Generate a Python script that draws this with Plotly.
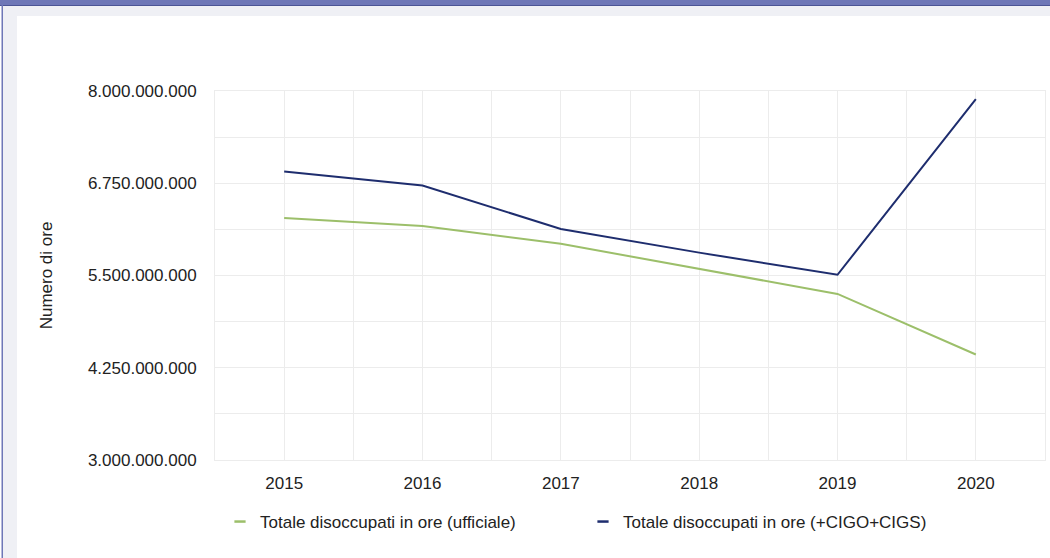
import plotly.graph_objects as go

years = [2015, 2016, 2017, 2018, 2019, 2020]
ufficiale = [6.28e9, 6.17e9, 5.93e9, 5.59e9, 5.25e9, 4.43e9]
cigo_cigs = [6.91e9, 6.72e9, 6.13e9, 5.81e9, 5.51e9, 7.89e9]
series_names = ["Totale disoccupati in ore (ufficiale)", "Totale disoccupati in ore (+CIGO+CIGS)"]
y_title = "Numero di ore"

GREEN = "#9cbf6a"
NAVY = "#1e2d6e"
GRID = "#ececec"
FONT = "Liberation Sans, Arial, sans-serif"
FS = 17

W, H = 1050, 558
ML, MR, MT, MB = 215, 5, 91, 98
PW, PH = W - ML - MR, H - MT - MB


def px_x(p):
    return (p - ML) / PW


def px_y(p):
    return (H - MB - p) / PH


fig = go.Figure()
fig.add_trace(go.Scatter(x=years, y=ufficiale, mode="lines", line=dict(color=GREEN, width=2),
                         name=series_names[0], showlegend=False))
fig.add_trace(go.Scatter(x=years, y=cigo_cigs, mode="lines", line=dict(color=NAVY, width=2),
                         name=series_names[1], showlegend=False))
# legend entries with short line symbols
for nm, col in zip(series_names, [GREEN, NAVY]):
    fig.add_trace(go.Scatter(x=[None], y=[None], mode="markers", name=nm,
                             marker=dict(symbol="line-ew-open", size=8, color=col, line=dict(color=col, width=2.5))))

shapes = []
# frame decoration
shapes.append(dict(type="rect", xref="paper", yref="paper", x0=px_x(0), x1=px_x(W), y0=px_y(0), y1=px_y(5),
                   fillcolor="#6e77b7", line=dict(width=0), layer="above"))
shapes.append(dict(type="rect", xref="paper", yref="paper", x0=px_x(0), x1=px_x(W), y0=px_y(5), y1=px_y(6),
                   fillcolor="#4b5495", line=dict(width=0), layer="above"))
shapes.append(dict(type="rect", xref="paper", yref="paper", x0=px_x(3), x1=px_x(W), y0=px_y(6), y1=px_y(16),
                   fillcolor="#eff0f5", line=dict(width=0), layer="above"))
shapes.append(dict(type="rect", xref="paper", yref="paper", x0=px_x(3), x1=px_x(17), y0=px_y(6), y1=px_y(H),
                   fillcolor="#eff0f5", line=dict(width=0), layer="above"))
shapes.append(dict(type="rect", xref="paper", yref="paper", x0=px_x(1.5), x1=px_x(3), y0=px_y(0), y1=px_y(H),
                   fillcolor="#6e77b7", line=dict(width=0), layer="above"))

fig.update_layout(
    width=W, height=H,
    margin=dict(l=ML, r=MR, t=MT, b=MB, autoexpand=False),
    paper_bgcolor="white", plot_bgcolor="white",
    separators=",.",
    font=dict(family=FONT, size=FS, color="#222222"),
    shapes=shapes,
    showlegend=True,
    legend=dict(orientation="h", x=px_x(220), xanchor="left", y=px_y(522), yanchor="middle",
                bgcolor="rgba(0,0,0,0)", itemwidth=30, entrywidth=318, entrywidthmode="pixels",
                font=dict(family=FONT, size=FS, color="#222222")),
    xaxis=dict(range=[2014.5, 2020.5], tickmode="linear", tick0=2015, dtick=1,
               showgrid=True, gridcolor=GRID, gridwidth=1, zeroline=False,
               showline=True, linecolor=GRID, linewidth=1, mirror=True,
               ticks="outside", ticklen=8, tickcolor="rgba(0,0,0,0)",
               minor=dict(tickmode="linear", tick0=2014.5, dtick=0.5, showgrid=True, gridcolor=GRID, gridwidth=1),
               tickfont=dict(size=FS, color="#222222")),
    yaxis=dict(range=[3e9, 8e9], tickmode="linear", tick0=3e9, dtick=1.25e9, tickformat=",d",
               showgrid=True, gridcolor=GRID, gridwidth=1, zeroline=False,
               showline=True, linecolor=GRID, linewidth=1, mirror=True,
               ticks="outside", ticklen=14, tickcolor="rgba(0,0,0,0)",
               minor=dict(tickmode="linear", tick0=3e9, dtick=0.625e9, showgrid=True, gridcolor=GRID, gridwidth=1),
               tickfont=dict(size=FS, color="#222222"),
               title=dict(text=y_title, standoff=30, font=dict(size=FS, color="#222222"))),
)

fig.write_html("out.html")
